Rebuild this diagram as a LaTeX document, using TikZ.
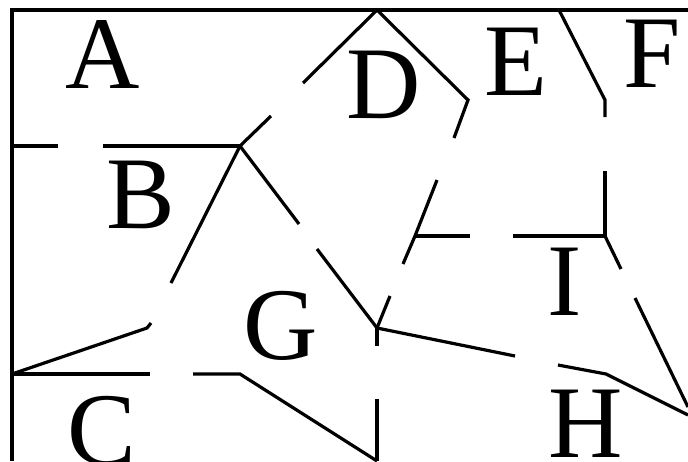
\documentclass[tikz,border=0pt]{standalone}
\usepackage{fontspec}
\setmainfont{Liberation Serif}
\tikzset{
  wall/.style={draw=black,line width=3.2pt,line join=miter},
  room/.style={font=\fontsize{103}{103}\selectfont,inner sep=0pt,anchor=base,text=black}
}
\begin{document}
\begin{tikzpicture}[x=1pt,y=-1pt]
  \useasboundingbox (0,0) rectangle (688,461);
  % junctions of the walls
  \coordinate (jB) at (240,146);
  \coordinate (jDtop) at (377,10);
  \coordinate (jD) at (468,100);
  \coordinate (jE) at (415,236);
  \coordinate (jG) at (377,328);
  \coordinate (jI) at (605,236);
  \coordinate (jF) at (605,100);
  \coordinate (jFtop) at (559,10);
  \coordinate (jC) at (12,374);
  \coordinate (jCr) at (240,374);
  \coordinate (jH) at (606,374);
  % outer frame
  \draw[wall] (12,461) -- (12,10) -- (688,10);
  % walls
  \draw[wall] (12,146) -- (58,146);
  \draw[wall] (103,146) -- (jB);
  \draw[wall] (jB) -- (271,116);
  \draw[wall] (303,83) -- (jDtop) -- (jD) -- (454,138);
  \draw[wall] (437,180) -- (jE) -- (403,264);
  \draw[wall] (jE) -- (470,236);
  \draw[wall] (513,236) -- (jI);
  \draw[wall] (jB) -- (171,283);
  \draw[wall] (jB) -- (299,224);
  \draw[wall] (317,249) -- (jG);
  \draw[wall] (jG) -- (390,296);
  \draw[wall] (jG) -- (377,346);
  \draw[wall] (377,399) -- (377,461);
  \draw[wall] (jG) -- (515,356);
  \draw[wall] (558,365) -- (jH) -- (688,415);
  \draw[wall] (jI) -- (605,171);
  \draw[wall] (605,117) -- (jF) -- (jFtop);
  \draw[wall] (jI) -- (621,269);
  \draw[wall] (635,298) -- (688,407);
  \draw[wall] (jC) -- (147,328) -- (151,323);
  \draw[wall] (jC) -- (150,374);
  \draw[wall] (193,374) -- (jCr) -- (377,461);
  % rooms
  \node[room] (roomA) at (103,88) {A};
  \node[room] (roomB) at (141,228) {B};
  \node[room] (roomC) at (102,464) {C};
  \node[room] (roomD) at (384,118) {D};
  \node[room] (roomE) at (516,95) {E};
  \node[room] (roomF) at (652,87) {F};
  \node[room] (roomG) at (281,359) {G};
  \node[room] (roomI) at (565,315) {I};
  \node[room] (roomH) at (586,457) {H};
\end{tikzpicture}
\end{document}
